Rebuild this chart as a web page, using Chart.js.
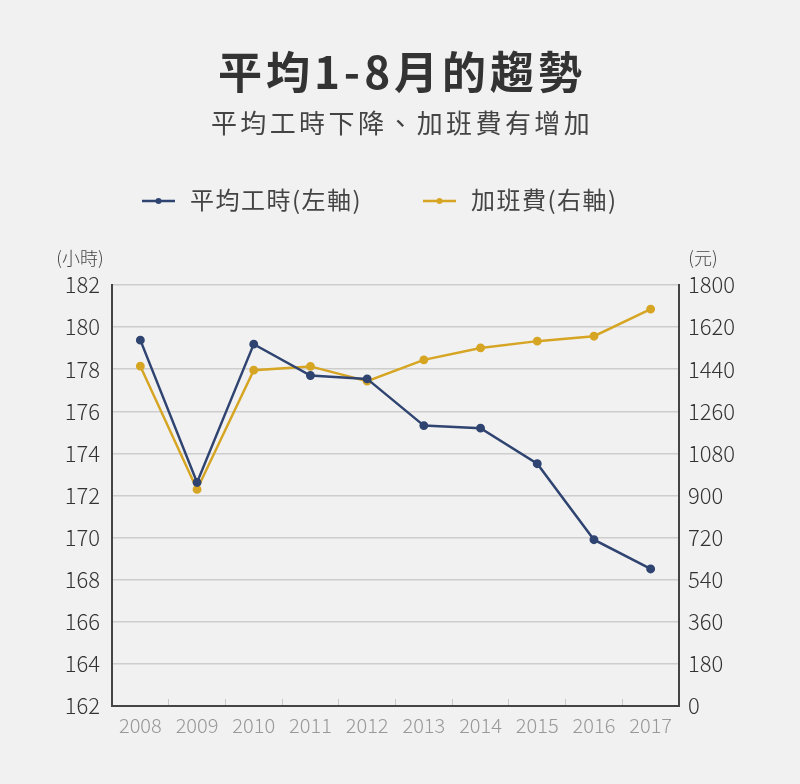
<!DOCTYPE html>
<html>
<head>
<meta charset="utf-8">
<script src="https://cdn.jsdelivr.net/npm/chart.js@4"></script>
<style>
  body { margin: 0; background: #f1f1f1; }
  #wrap { width: 800px; height: 784px; }
</style>
</head>
<body>
<div id="wrap"><canvas id="myChart"></canvas></div>
<script>
const ctx = document.querySelector("#myChart").getContext("2d")

const years = ["2008", "2009", "2010", "2011", "2012", "2013", "2014", "2015", "2016", "2017"]
const hours = [179.38, 172.62, 179.19, 177.70, 177.54, 175.32, 175.20, 173.51, 169.90, 168.51]
const overtimePay = [1453, 926, 1436, 1452, 1389, 1480, 1531, 1560, 1581, 1697]
const hoursLabel = "平均工時(左軸)"
const payLabel = "加班費(右軸)"

const font = "'Noto Sans CJK TC', 'Noto Sans', sans-serif"
const navy = "#2f4470"
const gold = "#d6a523"

// title, subtitle, legend and unit labels
const textPlugin = {
    id: "texts",
    afterDraw(chart) {
        const c = chart.ctx
        c.save()
        c.textAlign = "center"
        c.textBaseline = "middle"
        c.fillStyle = "#333"
        c.font = "bold 44px " + font
        c.letterSpacing = "4px"
        c.fillText("平均1-8月的趨勢", 402, 72)
        c.fillStyle = "#444"
        c.font = "26px " + font
        c.letterSpacing = "3.4px"
        c.fillText("平均工時下降、加班費有增加", 402, 123)

        const items = [[hoursLabel, navy, 142], [payLabel, gold, 423]]
        c.font = "24px " + font
        c.letterSpacing = "1.5px"
        c.textAlign = "left"
        items.forEach(([label, color, x]) => {
            c.strokeStyle = color
            c.lineWidth = 2.5
            c.beginPath()
            c.moveTo(x, 201)
            c.lineTo(x + 33, 201)
            c.stroke()
            c.fillStyle = color
            c.beginPath()
            c.arc(x + 16.5, 201, 3, 0, Math.PI * 2)
            c.fill()
            c.fillStyle = "#444"
            c.fillText(label, x + 48, 200)
        })

        c.font = "300 18px " + font
        c.letterSpacing = "0px"
        c.fillStyle = "#444"
        c.textAlign = "center"
        c.fillText("(小時)", 80, 258)
        c.fillText("(元)", 703, 258)
        c.restore()
    }
}

new Chart(ctx, {
    type: "line",
    data: {
        labels: years,
        datasets: [{
            label: hoursLabel,
            data: hours,
            yAxisID: "y",
            borderColor: navy,
            backgroundColor: navy,
            borderWidth: 2.5,
            pointRadius: 3.2,
            pointHoverRadius: 3.2,
            tension: 0
        }, {
            label: payLabel,
            data: overtimePay,
            yAxisID: "y1",
            borderColor: gold,
            backgroundColor: gold,
            borderWidth: 2.5,
            pointRadius: 3.2,
            pointHoverRadius: 3.2,
            tension: 0
        }]
    },
    options: {
        responsive: true,
        maintainAspectRatio: false,
        animation: false,
        layout: { padding: { top: 285, left: 0, right: 0, bottom: 0 } },
        plugins: {
            legend: { display: false },
            title: { display: false },
            tooltip: { enabled: false }
        },
        scales: {
            x: {
                offset: true,
                grid: { offset: true, drawOnChartArea: false, drawTicks: true, tickLength: -7, color: "#c8c8c8" },
                border: { display: true, color: "#444", width: 2 },
                ticks: { color: "#999", font: { family: font, size: 20, weight: 300 }, padding: 14 },
                afterFit(scale) { scale.height = 78 }
            },
            y: {
                position: "left",
                min: 162,
                max: 182,
                ticks: { stepSize: 2, color: "#333", font: { family: font, size: 22, weight: 300 }, padding: 12 },
                grid: { color: "#cdcdcd", lineWidth: 1.5, drawTicks: false },
                border: { display: true, color: "#444", width: 2 },
                afterFit(scale) { scale.width = 112 }
            },
            y1: {
                position: "right",
                min: 0,
                max: 1800,
                ticks: {
                    stepSize: 180, color: "#333", font: { family: font, size: 22, weight: 300 }, padding: 9,
                    callback: v => String(v)
                },
                grid: { drawOnChartArea: false, drawTicks: false },
                border: { display: true, color: "#444", width: 2 },
                afterFit(scale) { scale.width = 121 }
            }
        }
    },
    plugins: [textPlugin]
})
</script>
</body>
</html>
